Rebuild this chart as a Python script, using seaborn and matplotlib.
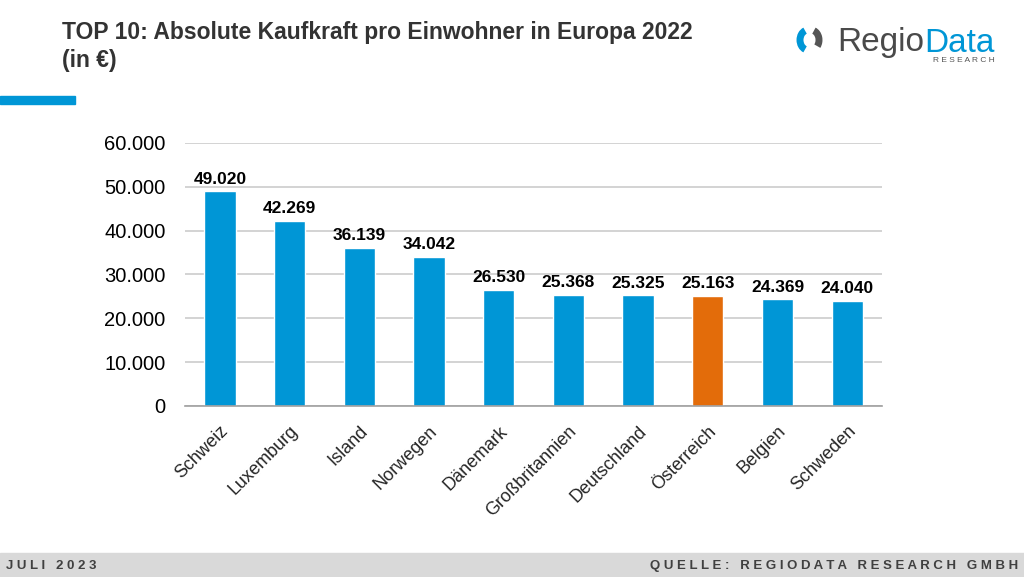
import matplotlib
matplotlib.use('Agg')
import matplotlib.pyplot as plt
import matplotlib.patches as mpatches
import seaborn as sns
import pandas as pd
from matplotlib.ticker import FuncFormatter, FixedLocator

countries = ['Schweiz', 'Luxemburg', 'Island', 'Norwegen', 'Dänemark',
             'Großbritannien', 'Deutschland', 'Österreich', 'Belgien', 'Schweden']
kaufkraft = [49020, 42269, 36139, 34042, 26530, 25368, 25325, 25163, 24369, 24040]
highlight = 'Österreich'

BLUE = '#0096D6'
ORANGE = '#E36C0A'
GREY_TXT = '#333333'

sns.set_theme(style='white')
plt.rcParams['font.family'] = ['Liberation Sans', 'DejaVu Sans']

df = pd.DataFrame({'land': countries, 'wert': kaufkraft})
palette = {c: (ORANGE if c == highlight else BLUE) for c in countries}

fig = plt.figure(figsize=(10.24, 5.77), dpi=100)
ax = fig.add_axes([0.1807, 0.2964, 0.6807, 0.4558])

sns.barplot(data=df, x='land', y='wert', hue='land', palette=palette,
            width=0.45, legend=False, ax=ax, saturation=1)

ax.set_ylim(0, 60000)
ax.set_xlim(-0.5, len(countries) - 0.5)
ax.yaxis.set_major_locator(FixedLocator(range(0, 60001, 10000)))
ax.yaxis.set_major_formatter(FuncFormatter(lambda v, p: f'{int(v):,}'.replace(',', '.')))
ax.grid(axis='y', color='#cccccc', linewidth=1.2)
ax.set_axisbelow(True)
for s in ['top', 'right', 'left']:
    ax.spines[s].set_visible(False)
ax.spines['bottom'].set_color('#a0a0a0')
ax.spines['bottom'].set_linewidth(1.2)
ax.set_xlabel('')
ax.set_ylabel('')
ax.tick_params(axis='y', labelsize=14.5, colors='black', length=0, pad=14)

# category labels at bar centres, tick marks at category borders
ax.set_xticks(range(len(countries)))
ax.set_xticklabels(countries, rotation=45, ha='right', rotation_mode='anchor', fontsize=13)
ax.tick_params(axis='x', length=0, pad=12)
ax.set_xticks([i - 0.5 for i in range(len(countries) + 1)], minor=True)
ax.tick_params(axis='x', which='minor', length=5, color='#a0a0a0', width=1.2, direction='out')

for i, v in enumerate(kaufkraft):
    ax.text(i, v + 1000, f'{v:,}'.replace(',', '.'), ha='center', va='bottom',
            fontsize=12.5, fontweight='bold', color='black')

# title
fig.text(62 / 1024, 1 - 33 / 577, 'TOP 10: Absolute Kaufkraft pro Einwohner in Europa 2022',
         fontsize=16.5, fontweight='bold', color=GREY_TXT, va='center')
fig.text(62 / 1024, 1 - 61 / 577, '(in €)', fontsize=16.5, fontweight='bold',
         color=GREY_TXT, va='center')

# blue accent bar
fig.patches.append(mpatches.Rectangle((0, 1 - 104 / 577), 75 / 1024, 8 / 577,
                                      transform=fig.transFigure, color=BLUE))

# logo
fig.patches.append(mpatches.Arc((808 / 1024, 1 - 40 / 577), 16 / 1024, 20 / 577,
                                theta1=100, theta2=260, transform=fig.transFigure,
                                color=BLUE, linewidth=5))
fig.patches.append(mpatches.Arc((811 / 1024, 1 - 40 / 577), 16 / 1024, 20 / 577,
                                theta1=-60, theta2=80, transform=fig.transFigure,
                                color='#555555', linewidth=5))
t_regio = fig.text(837 / 1024, 1 - 43 / 577, 'Regio', fontsize=24, color='#4a4a4a',
                   va='center')
fig.canvas.draw()
bb = t_regio.get_window_extent()
fig.text(bb.x1 / fig.bbox.width, 1 - 43 / 577, 'Data', fontsize=24, color=BLUE, va='center')
fig.text(995 / 1024, 1 - 61 / 577, 'R E S E A R C H', fontsize=6, color='#555555',
         va='center', ha='right')

# footer band
fig.patches.append(mpatches.Rectangle((0, 0), 1, 24 / 577, transform=fig.transFigure,
                                      color='#d9d9d9'))
fig.text(6 / 1024, 11 / 577, 'J U L I   2 0 2 3', fontsize=9.5, fontweight='bold',
         color='#404040', va='center')
fig.text(1018 / 1024, 11 / 577, 'Q U E L L E :   R E G I O D A T A   R E S E A R C H   G M B H',
         fontsize=9.5, fontweight='bold', color='#404040', va='center', ha='right')

fig.savefig('out.png', dpi=100)
